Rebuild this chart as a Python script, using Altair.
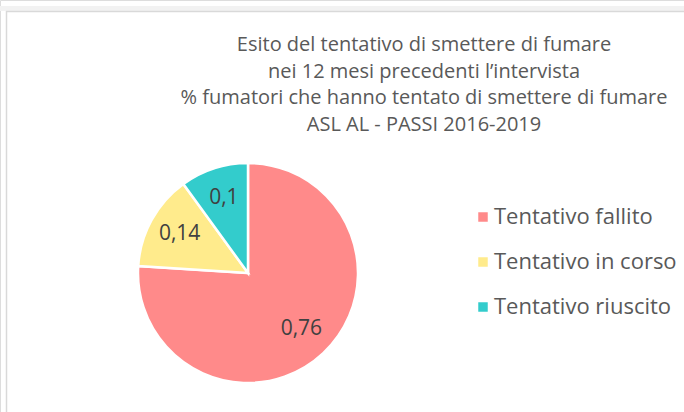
import altair as alt
import pandas as pd

categories = ["Tentativo fallito", "Tentativo in corso", "Tentativo riuscito"]
values = [0.76, 0.14, 0.10]
labels = ["0,76", "0,14", "0,1"]
colors = ["#FF8A8A", "#FFEB8C", "#33CCCC"]
title_lines = [
    "Esito del tentativo di smettere di fumare",
    "nei 12 mesi precedenti l\u2019intervista",
    "% fumatori che hanno tentato di smettere di fumare",
    "ASL AL - PASSI 2016-2019",
]

FONT = "Open Sans"

df = pd.DataFrame({"cat": categories, "val": values, "label": labels,
                   "ord": list(range(len(categories)))})

base = alt.Chart(df).encode(
    theta=alt.Theta("val:Q", stack=True),
    order=alt.Order("ord:Q"),
)

pie = base.mark_arc(outerRadius=110, stroke="white", strokeWidth=2.5).encode(
    x=alt.value(248), y=alt.value(273),
    color=alt.Color(
        "cat:N",
        scale=alt.Scale(domain=categories, range=colors),
        sort=categories,
        legend=alt.Legend(
            title=None, orient="none", legendX=472, legendY=206,
            symbolType="square", symbolSize=90, symbolStrokeWidth=0,
            labelFontSize=22, labelFont=FONT, labelColor="#595959",
            labelOffset=0, rowPadding=23, labelLimit=400,
        ),
    ),
)

txt = base.mark_text(radius=78, fontSize=21, font=FONT, color="#404040").encode(
    x=alt.value(248), y=alt.value(272), text="label:N"
)

blank = alt.Data(values=[{"a": 1}])

band = alt.Chart(blank).mark_rect(color="#f2f2f2").encode(
    x=alt.value(0), x2=alt.value(684), y=alt.value(6), y2=alt.value(11)
)
top_line = alt.Chart(blank).mark_rule(color="#d9d9d9", strokeWidth=1.5).encode(
    x=alt.value(6), x2=alt.value(684), y=alt.value(11.5)
)
left_line = alt.Chart(blank).mark_rule(color="#d9d9d9", strokeWidth=1.5).encode(
    x=alt.value(6.5), y=alt.value(11), y2=alt.value(412)
)

title = alt.Chart(alt.Data(values=[{"t": "\n".join(title_lines)}])).mark_text(
    fontSize=20, font=FONT, color="#595959", align="center", baseline="middle",
    lineBreak="\n", lineHeight=26.5,
).encode(x=alt.value(424), y=alt.value(45), text="t:N")

chart = alt.layer(band, top_line, left_line, pie, txt, title).properties(
    width=684, height=412, padding=0, autosize=alt.AutoSizeParams(type="none"),
).configure_view(stroke=None).configure(background="white")

chart.save("out.html", embed_options={"renderer": "svg", "actions": False})
